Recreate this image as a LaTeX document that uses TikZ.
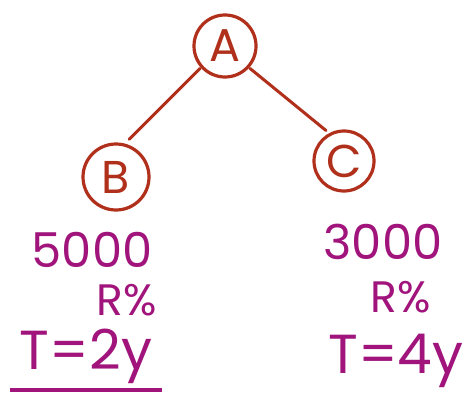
\documentclass[tikz,border=0pt]{standalone}
\usepackage{fontspec}
\setmainfont{Poppins}
\definecolor{inkred}{HTML}{B0301C}
\definecolor{inkpink}{HTML}{A0147C}
\tikzset{
  vertex/.style={circle, draw=inkred, line width=3.2pt, text=inkred,
    inner sep=0pt, font=\fontsize{46}{46}\selectfont},
  edge/.style={draw=inkred, line width=3pt, line cap=round},
  note/.style={text=inkpink, inner sep=0pt, font=\fontsize{48}{48}\selectfont},
  pct/.style={text=inkpink, inner sep=0pt, font=\fontsize{44}{44}\selectfont},
  bignote/.style={text=inkpink, inner sep=0pt, font=\fontsize{55}{55}\selectfont},
}
\begin{document}
\begin{tikzpicture}[x=1pt, y=-1pt]
  \useasboundingbox[fill=white] (0,0) rectangle (468,396);
  % tree nodes
  \node[vertex, minimum size=62pt] (A) at (225,46) {A};
  \node[vertex, minimum size=66pt] (B) at (116,177) {B};
  \node[vertex, minimum size=60pt] (C) at (344,161) {C};
  % branches
  \draw[edge, shorten <=1pt, shorten >=6pt] (A.222) -- (B.75);
  \draw[edge, shorten <=1pt, shorten >=4pt] (A.318) -- (C.118);
  % left leaf data
  \node[note] (b1) at (92,250) {5000};
  \node[pct] (b2) at (127,300) {R\%};
  \node[bignote] (b3) at (86,356) {T=2y};
  \coordinate (u1) at (10,390);
  \coordinate (u2) at (162,390);
  \draw[draw=inkpink, line width=3.2pt] (u1) -- (u2);
  % right leaf data
  \node[note] (c1) at (383,242) {3000};
  \node[pct] (c2) at (401,297) {R\%};
  \node[bignote] (c3) at (396,361) {T=4y};
\end{tikzpicture}
\end{document}
